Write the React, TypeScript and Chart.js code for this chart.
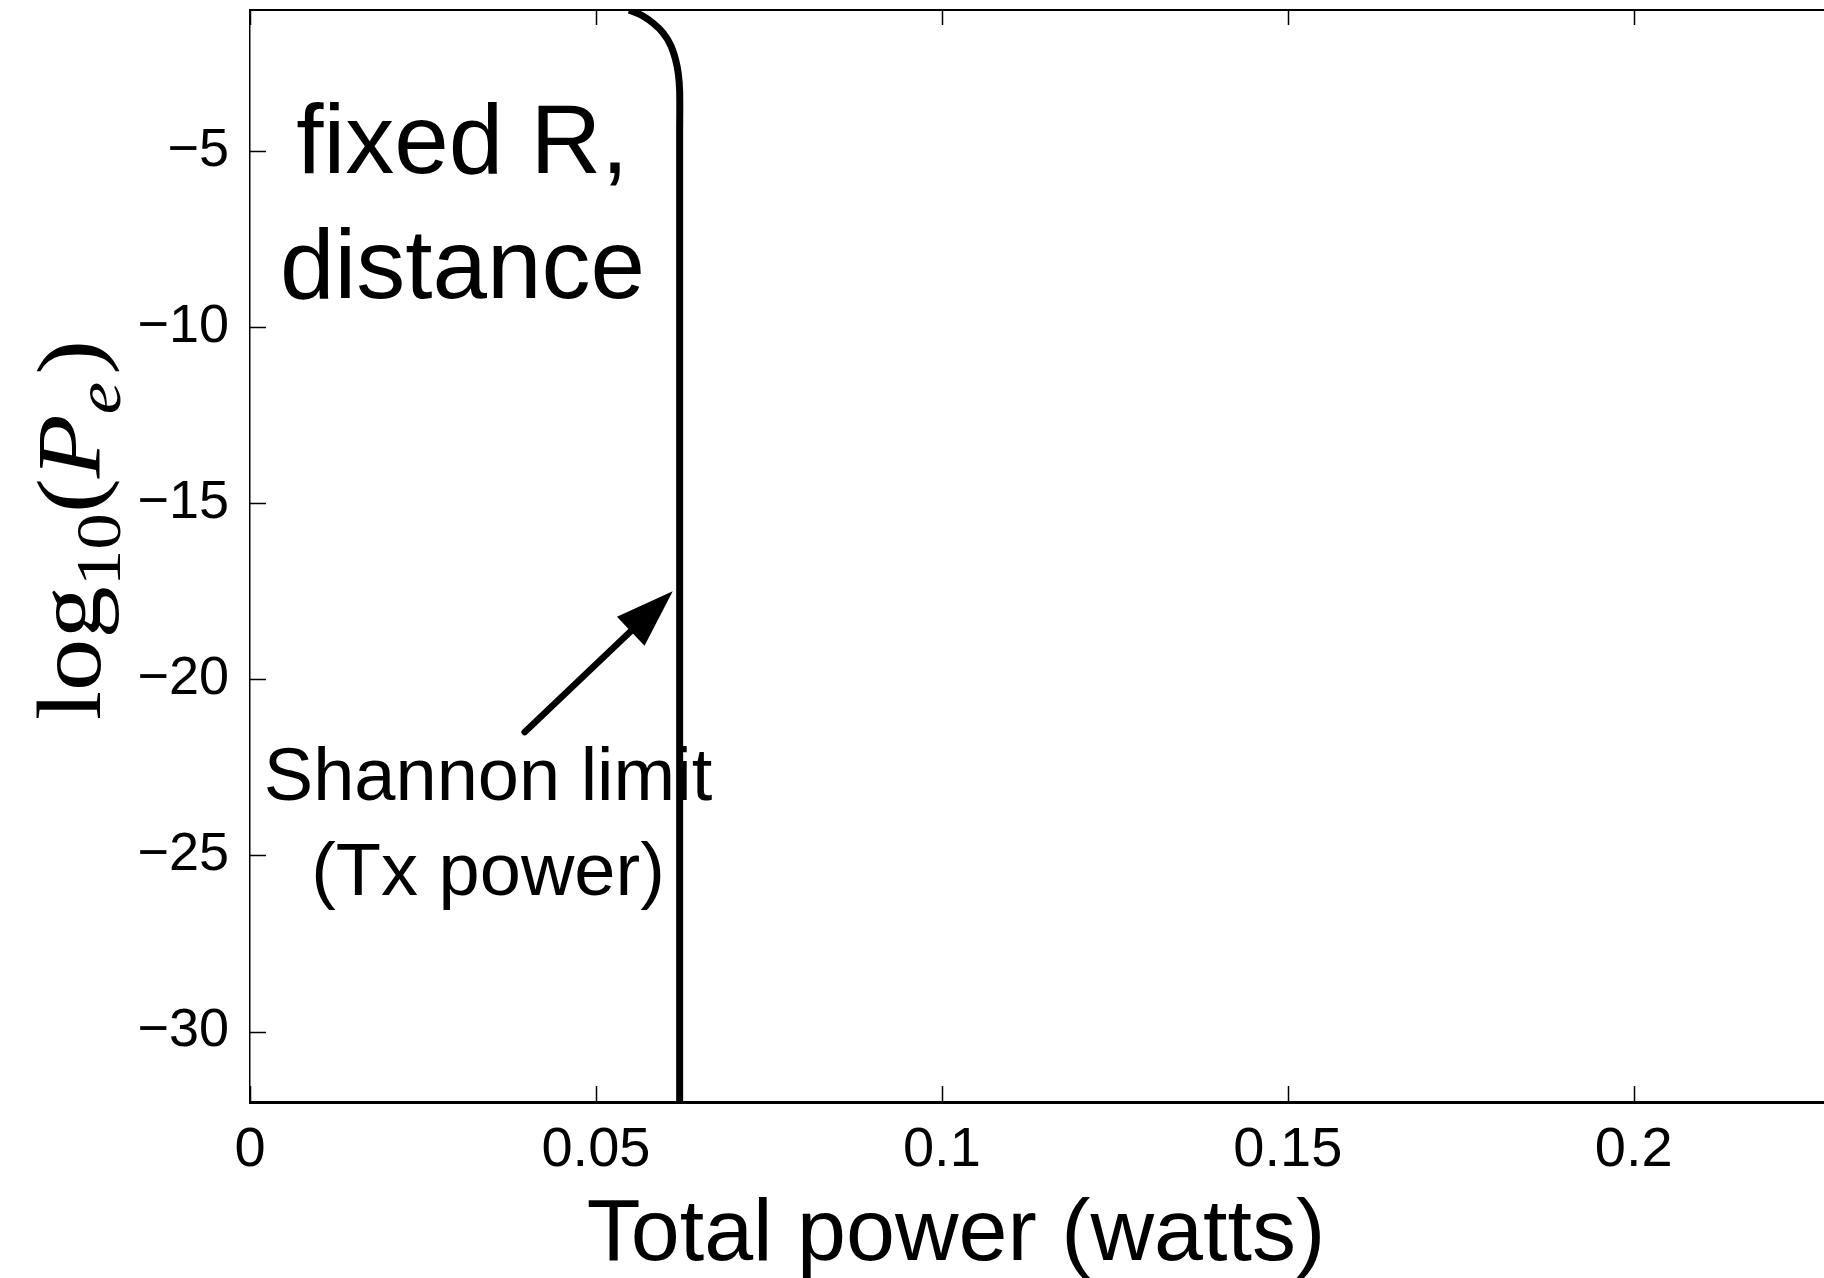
import React, { useEffect, useRef } from "react";
import { Chart, registerables } from "chart.js";

Chart.register(...registerables);

// ---- data ----
const powerWatts = [0.0548, 0.0566, 0.0583, 0.0597, 0.0608, 0.0615, 0.0619, 0.0621, 0.0621, 0.0621, 0.0621];
const log10Pe = [-1.0, -1.15, -1.38, -1.65, -2.0, -2.4, -2.8, -3.3, -4.5, -12, -32];

const xTickValues = [0, 0.05, 0.1, 0.15, 0.2];
const xTickLabels = ["0", "0.05", "0.1", "0.15", "0.2"];
const yTickValues = [-30, -25, -20, -15, -10, -5];
const yTickLabels = ["\u221230", "\u221225", "\u221220", "\u221215", "\u221210", "\u22125"];

const xRange = [0, 0.2275];
const yRange = [-32, -1];

// annotation anchors (data units)
const noteFixedLines = ["fixed R,", "distance"];
const noteFixedX = [0.0307, 0.0307];
const noteFixedY = [-5.63, -9.17];
const noteShannonLines = ["Shannon limit", "(Tx power)"];
const noteShannonX = [0.0344, 0.0344];
const noteShannonY = [-23.42, -26.11];
const arrowTail = [0.0397, -21.5];
const arrowTip = [0.0611, -17.5];

const xTitle = "Total power (watts)";

const SANS = '"Liberation Sans", Arial, Helvetica, sans-serif';
const SERIF = '"Liberation Serif", "Times New Roman", serif';

const decorPlugin = {
  id: "decor",
  afterDraw(chart: any) {
    const ctx = chart.ctx;
    const xs = chart.scales.x;
    const ys = chart.scales.y;
    const area = chart.chartArea;
    ctx.save();
    ctx.strokeStyle = "#000";
    ctx.fillStyle = "#000";
    ctx.lineCap = "butt";

    // inward ticks
    ctx.lineWidth = 1.5;
    ctx.beginPath();
    for (const v of xTickValues) {
      const px = Math.round(xs.getPixelForValue(v)) + 0.5;
      ctx.moveTo(px, area.bottom);
      ctx.lineTo(px, area.bottom - 16);
      ctx.moveTo(px, area.top);
      ctx.lineTo(px, area.top + 15);
    }
    for (const v of yTickValues) {
      const py = Math.round(ys.getPixelForValue(v)) + 0.5;
      ctx.moveTo(area.left, py);
      ctx.lineTo(area.left + 16, py);
    }
    ctx.stroke();

    // "fixed R, distance"
    ctx.font = `98px ${SANS}`;
    ctx.textAlign = "center";
    ctx.textBaseline = "alphabetic";
    noteFixedLines.forEach((t, i) => {
      ctx.fillText(t, xs.getPixelForValue(noteFixedX[i]), ys.getPixelForValue(noteFixedY[i]));
    });
    // "Shannon limit (Tx power)"
    ctx.font = `74px ${SANS}`;
    noteShannonLines.forEach((t, i) => {
      ctx.fillText(t, xs.getPixelForValue(noteShannonX[i]), ys.getPixelForValue(noteShannonY[i]));
    });

    // arrow
    const tx = xs.getPixelForValue(arrowTail[0]);
    const ty = ys.getPixelForValue(arrowTail[1]);
    const hx = xs.getPixelForValue(arrowTip[0]);
    const hy = ys.getPixelForValue(arrowTip[1]);
    const ang = Math.atan2(hy - ty, hx - tx);
    const headLen = 58;
    const headHalf = 20;
    const bx = hx - headLen * Math.cos(ang);
    const by = hy - headLen * Math.sin(ang);
    ctx.lineWidth = 6.5;
    ctx.lineCap = "round";
    ctx.beginPath();
    ctx.moveTo(tx, ty);
    ctx.lineTo(bx + 10 * Math.cos(ang), by + 10 * Math.sin(ang));
    ctx.stroke();
    ctx.beginPath();
    ctx.moveTo(hx, hy);
    ctx.lineTo(bx + headHalf * Math.sin(ang), by - headHalf * Math.cos(ang));
    ctx.lineTo(bx - headHalf * Math.sin(ang), by + headHalf * Math.cos(ang));
    ctx.closePath();
    ctx.fill();

    // x title
    ctx.font = `88px ${SANS}`;
    ctx.textAlign = "center";
    ctx.textBaseline = "alphabetic";
    ctx.fillText(xTitle, 956, 1260);

    // y title: log_{10}(P_e), rotated
    const big = 90;
    const small = 63;
    const segs = [
      { t: "log", f: `${big}px ${SERIF}`, dy: 0 },
      { t: "10", f: `${small}px ${SERIF}`, dy: 20 },
      { t: "(", f: `${big}px ${SERIF}`, dy: 0 },
      { t: "P", f: `italic ${big}px ${SERIF}`, dy: 0 },
      { t: "e", f: `italic ${small}px ${SERIF}`, dy: 20 },
      { t: ")", f: `${big}px ${SERIF}`, dy: 0 },
    ];
    let total = 0;
    const widths: number[] = [];
    for (const s of segs) {
      ctx.font = s.f;
      const w = ctx.measureText(s.t).width + (s.t === "e" ? 6 : 0);
      widths.push(w);
      total += w;
    }
    const targetLen = 380;
    ctx.translate(100, 720);
    ctx.rotate(-Math.PI / 2);
    ctx.scale(targetLen / total, 1);
    ctx.textAlign = "left";
    let cx = 0;
    segs.forEach((s, i) => {
      ctx.font = s.f;
      ctx.fillText(s.t, cx, s.dy);
      cx += widths[i];
    });
    ctx.restore();
  },
};

export default function App() {
  const ref = useRef<HTMLCanvasElement | null>(null);
  useEffect(() => {
    document.body.style.margin = "0";
    document.body.style.overflow = "hidden";
    const canvas = ref.current;
    if (!canvas) return;
    const chart = new Chart(canvas, {
      type: "line",
      data: {
        datasets: [
          {
            data: powerWatts.map((x, i) => ({ x, y: log10Pe[i] })),
            borderColor: "#000",
            borderWidth: 7,
            pointRadius: 0,
            tension: 0.35,
            fill: false,
          },
        ],
      },
      options: {
        animation: false,
        responsive: false,
        layout: { padding: 0 },
        plugins: { legend: { display: false }, tooltip: { enabled: false }, title: { display: false } },
        scales: {
          x: {
            type: "linear",
            position: "bottom",
            min: xRange[0],
            max: xRange[1],
            grid: { display: false },
            border: { display: true, width: 3, color: "#000" },
            afterBuildTicks: (s: any) => {
              s.ticks = xTickValues.map((v) => ({ value: v }));
            },
            afterFit: (s: any) => {
              s.height = 176;
              s.paddingLeft = 0;
              s.paddingRight = 0;
            },
            ticks: {
              autoSkip: false,
              maxRotation: 0,
              padding: 7,
              color: "#000",
              font: { family: SANS, size: 56 },
              callback: (_v: any, i: number) => xTickLabels[i],
            },
          },
          x2: {
            type: "linear",
            position: "top",
            min: xRange[0],
            max: xRange[1],
            grid: { display: false },
            border: { display: true, width: 2, color: "#000" },
            ticks: { display: false },
            afterFit: (s: any) => {
              s.height = 10;
              s.paddingLeft = 0;
              s.paddingRight = 0;
            },
          },
          y: {
            type: "linear",
            position: "left",
            min: yRange[0],
            max: yRange[1],
            grid: { display: false },
            border: { display: true, width: 1.5, color: "#000" },
            afterBuildTicks: (s: any) => {
              s.ticks = yTickValues.map((v) => ({ value: v }));
            },
            afterFit: (s: any) => {
              s.width = 250;
              s.paddingTop = 0;
              s.paddingBottom = 0;
            },
            ticks: {
              autoSkip: false,
              padding: 13,
              color: "#000",
              font: { family: SANS, size: 54 },
              callback: (_v: any, i: number) => yTickLabels[i],
            },
          },
        },
      },
      plugins: [decorPlugin],
    } as any);
    return () => chart.destroy();
  }, []);
  return (
    <div style={{ width: 1824, height: 1278, background: "#fff" }}>
      <canvas ref={ref} width={1824} height={1278} style={{ display: "block", width: 1824, height: 1278 }} />
    </div>
  );
}
